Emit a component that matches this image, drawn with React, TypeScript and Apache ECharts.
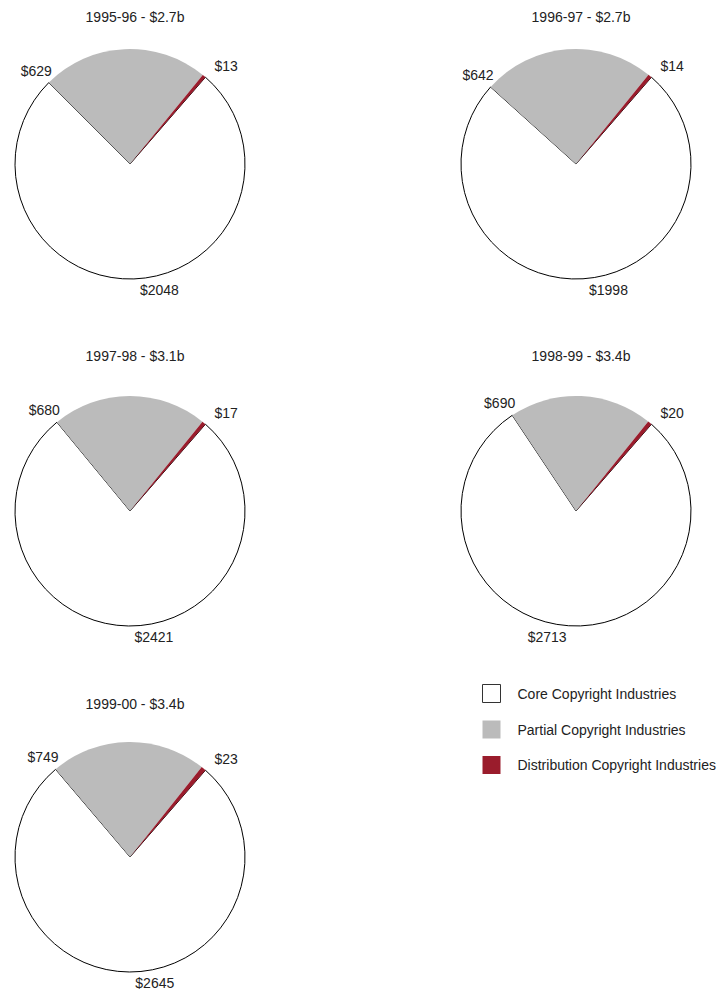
import React, { useEffect, useRef } from "react";
import * as echarts from "echarts";

const years = ["1995-96", "1996-97", "1997-98", "1998-99", "1999-00"];
const totalLabels = ["$2.7b", "$2.7b", "$3.1b", "$3.4b", "$3.4b"];
const categories = [
  "Core Copyright Industries",
  "Partial Copyright Industries",
  "Distribution Copyright Industries",
];
const coreValues = [2048, 1998, 2421, 2713, 2645];
const partialValues = [629, 642, 680, 690, 749];
const distributionValues = [13, 14, 17, 20, 23];

const centers: [number, number][] = [
  [130, 164],
  [576, 164],
  [130, 511],
  [576, 511],
  [130, 857],
];
const titleTops = [5, 5, 344, 344, 692];
const RADIUS = 115;
const START_ANGLE = 49;
const FONT = "'Liberation Sans', Arial, Helvetica, sans-serif";
const TEXT_COLOR = "#222";
const colors = ["#ffffff", "#bbbbbb", "#9a1c2c"];

function pointAt(c: [number, number], angleDeg: number, r: number) {
  const a = (angleDeg * Math.PI) / 180;
  return [c[0] + r * Math.cos(a), c[1] - r * Math.sin(a)];
}

export default function App() {
  const ref = useRef<HTMLDivElement>(null);
  useEffect(() => {
    if (!ref.current) return;
    const chart = echarts.init(ref.current, undefined, { renderer: "svg" });

    const labelLayout = (params: any) => {
      const s = params.seriesIndex;
      const d = params.dataIndex;
      const vals = [coreValues[s], partialValues[s], distributionValues[s]];
      const total = vals[0] + vals[1] + vals[2];
      const coreSpan = (vals[0] / total) * 360;
      const c = centers[s];
      if (d === 0) {
        const p = pointAt(c, START_ANGLE - coreSpan / 2, RADIUS);
        const leftSide = p[0] < c[0] - 3;
        return {
          x: leftSide ? p[0] - 2 : p[0] + 6,
          y: p[1] + 4,
          align: leftSide ? "right" : "left",
          verticalAlign: "top",
        };
      }
      if (d === 1) {
        const p = pointAt(c, START_ANGLE - coreSpan, RADIUS);
        return { x: p[0] + 3, y: p[1] - 5, align: "right", verticalAlign: "bottom" };
      }
      const p = pointAt(c, START_ANGLE, RADIUS);
      return { x: p[0] + 9, y: p[1] - 4, align: "left", verticalAlign: "bottom" };
    };

    const series = years.map((y, i) => ({
      type: "pie",
      name: y,
      center: centers[i],
      radius: RADIUS,
      startAngle: START_ANGLE,
      clockwise: true,
      avoidLabelOverlap: false,
      silent: true,
      label: {
        show: true,
        position: "outside",
        formatter: (p: any) => "$" + p.value,
        fontFamily: FONT,
        fontSize: 14,
        color: TEXT_COLOR,
      },
      labelLine: { show: false },
      labelLayout,
      data: [
        {
          name: categories[0],
          value: coreValues[i],
          itemStyle: { color: colors[0], borderColor: "#000", borderWidth: 1 },
        },
        {
          name: categories[1],
          value: partialValues[i],
          itemStyle: { color: colors[1], borderWidth: 0 },
        },
        {
          name: categories[2],
          value: distributionValues[i],
          itemStyle: { color: colors[2], borderWidth: 0 },
        },
      ],
    }));

    chart.setOption({
      animation: false,
      backgroundColor: "#ffffff",
      title: years.map((y, i) => ({
        text: `${y} - ${totalLabels[i]}`,
        left: centers[i][0],
        top: titleTops[i],
        textAlign: "center",
        textStyle: {
          fontFamily: FONT,
          fontSize: 14,
          fontWeight: "normal",
          color: TEXT_COLOR,
        },
      })),
      legend: {
        orient: "vertical",
        left: 482,
        top: 684,
        padding: 0,
        itemWidth: 18,
        itemHeight: 18,
        itemGap: 17.5,
        icon: "rect",
        selectedMode: false,
        textStyle: {
          fontFamily: FONT,
          fontSize: 14,
          color: TEXT_COLOR,
          padding: [0, 0, 0, 12],
        },
        data: [
          {
            name: categories[0],
            itemStyle: { color: colors[0], borderColor: "#333", borderWidth: 1 },
          },
          { name: categories[1], itemStyle: { color: colors[1], borderWidth: 0 } },
          { name: categories[2], itemStyle: { color: colors[2], borderWidth: 0 } },
        ],
      },
      series,
    });
    return () => chart.dispose();
  }, []);
  return (
    <div
      ref={ref}
      style={{ position: "fixed", left: 0, top: 0, width: 718, height: 991 }}
    />
  );
}
